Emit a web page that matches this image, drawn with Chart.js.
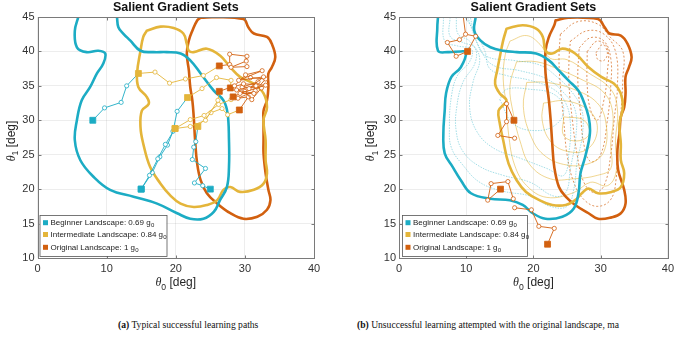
<!DOCTYPE html>
<html>
<head>
<meta charset="utf-8">
<script src="https://cdn.jsdelivr.net/npm/chart.js@4/dist/chart.umd.min.js"></script>
<style>
  html, body { margin: 0; padding: 0; background: #fff; }
  #wrap { position: relative; width: 678px; height: 346px; overflow: hidden; }
  .pane { position: absolute; top: 0; width: 339px; height: 300px; }
  .cap { position: absolute; top: 319px; font: 9.6px 'Liberation Serif', 'Times New Roman', serif; color: #111; white-space: nowrap; }
</style>
</head>
<body>
<div id="wrap">
  <div class="pane" style="left:0"><canvas id="chA" width="339" height="300"></canvas></div>
  <div class="pane" style="left:339px"><canvas id="chB" width="339" height="300"></canvas></div>
  <div class="cap" style="left:118px"><b>(a)</b> Typical successful learning paths</div>
  <div class="cap" style="left:357px"><b>(b)</b> Unsuccessful learning attempted with the original landscape, ma</div>
</div>
<script>
// axes
const xTickValues = [0, 10, 20, 30, 40];
const yTickValues = [10, 15, 20, 25, 30, 35, 40, 45];
const landscapeNames = ['Beginner Landscape', 'Intermediate Landscape', 'Original Landscape'];
const landscapeScales = ['0.69', '0.84', '1'];

// (a) salient set borders [theta0, theta1]
const leftBeginnerEdge = [[5.9,45],[5.4,43],[5.7,40.6],[7.1,39.9],[8.8,40.1],[9.8,39.7],[9.5,38.2],[8.6,36.8],[7.6,34.8],[6.4,32.9],[5.7,30],[5.4,27.1],[6.2,24.2],[8.1,21.8],[10.5,19.9],[13.9,18.9],[17.3,17.9],[20.2,16.5],[22.1,15.7],[24,15.7],[25.5,16.7],[26.4,18.4],[27.4,20.3],[27.7,23.2],[27.7,27.1],[27.5,31],[26.9,32.9],[25.5,34.3],[23.6,36.8],[22.1,38.7],[20.7,39.7],[18.7,39.9],[16.8,39.9],[14.9,40.1],[13.4,41.6],[12.4,42.6],[11.7,43.5],[11.5,45]];
const leftIntermediateEdge = [[15.8,43],[17.8,43.6],[19.7,43.4],[21.1,42.6],[21.6,41.1],[21.9,40.1],[22.6,39.9],[24.5,40.4],[26.4,39.4],[27.9,37.7],[29.3,36.3],[31.3,35.3],[32.7,33.9],[33.2,31.9],[32.7,30],[33,27.1],[33,24.2],[33.2,22.3],[32.7,20.8],[31.3,19.9],[29.3,19.6],[27.9,20.3],[26.9,19.9],[26,18.4],[24.5,17.7],[22.6,17.4],[20.7,17.9],[19.2,19.1],[17.8,20.8],[16.3,23.2],[15.3,26.6],[14.9,29],[15.1,31.4],[16.1,32.4],[15.8,33.4],[14.6,34.8],[14.4,36.8],[14.9,40.1],[15.3,42.1],[15.8,43]];
const leftOriginalEdge = [[23.6,44.9],[26,45],[29.8,44.7],[30.5,43.5],[31.3,42.6],[33.2,42.1],[33.9,41.1],[34.4,39.2],[33.9,37.7],[33.4,36.8],[33.4,34.8],[33.2,32.9],[32.7,31.4],[32.7,30],[32.7,27.1],[32.7,25.2],[33,22.3],[33.4,19.9],[33.7,18.4],[33.2,17],[31.8,16],[29.8,15.7],[27.9,16.5],[26,17.9],[24.5,19.4],[23.6,21.3],[23.1,23.7],[22.8,27.1],[22.6,30.5],[22.4,32.9],[22.1,34.8],[21.9,37.2],[21.6,39.7],[21.9,41.6],[22.4,43],[23.1,44.5],[23.6,44.9]];

// (a) learning paths, first point is the start square
const leftBeginnerPaths = [
  [[8,30],[9.7,31.8],[12.1,32.6],[12.9,35],[14.6,36.8]],
  [[15,20],[16.2,22],[17.4,24.4],[18.5,26.5],[19.9,28.8]],
  [[15,20],[16.6,22.4],[17.7,24.7],[18.8,26.4],[19.6,28.4],[20.2,31.3],[21.7,33.3]],
  [[25,20],[23.9,20.5],[22.7,20.9],[24.3,23],[22.4,24.3],[22.6,26.1],[22.9,26.9],[23.2,29.1]]
];
const leftIntermediatePaths = [
  [[14.6,36.8],[17,37],[19.1,35.4],[21.4,36],[24,36.5],[26.3,37.9]],
  [[21.7,33.3],[23.8,34.6],[25.9,36.2],[28,35.8],[27.9,34.7]],
  [[19.9,28.8],[22.1,29.1],[24.3,30],[26.1,32.9],[26.3,34.2]],
  [[19.9,28.8],[22.1,30.1],[24.1,30.7],[26.2,32.3],[28,33],[28.3,33.4]],
  [[23.2,29.1],[25.1,31.1],[26.7,31.7],[27.5,30.8],[29.2,31.5]]
];
const leftOriginalPaths = [
  [[26.3,37.9],[27.8,38.1],[27.8,39.6],[30.3,39.3],[30.2,38.6],[28,37.7],[30.3,37.8]],
  [[26.3,34.2],[28.5,35],[30.1,36.6],[32.5,37.2],[29.1,35.8],[32.7,36.3],[30.6,34.6]],
  [[27.9,34.7],[29.8,35.3],[33,35.1],[29.3,33.9],[31.3,33.9],[28.8,34.4],[31.6,35]],
  [[28.3,33.4],[30,34.2],[31,33],[32.4,34.7],[29.6,34.8],[31.9,35.6]],
  [[29.2,31.5],[30.5,33.4],[29,33.2],[31.5,34.3],[33,36],[30.8,36.2]]
];

// (b) salient set borders
const rightBeginnerEdge = [[5.8,45],[5.7,43.5],[5.8,40.1],[7.3,39.9],[9.2,40],[10,39.9],[9.2,37.7],[7.8,36.3],[7,33.9],[6.8,31.4],[6.6,28.1],[6.8,25.2],[8,23.2],[9.2,21.3],[10.7,19.4],[13.6,18.6],[16.5,18.4],[18.4,17.7],[19.9,16.5],[21.8,15.7],[24.3,16],[26,17.2],[26.7,19.4],[27,22.3],[27.7,24.7],[28.4,28.1],[28.2,30.5],[27.4,32.9],[26.7,34.3],[25.2,35.8],[23.8,37.2],[22.3,38.7],[20.4,39.7],[17.5,39.9],[15.5,40.1],[13.6,40.6],[12.1,41.6],[11.2,43],[11.4,45]];
const rightIntermediateEdge = [[16,43.3],[18.4,43.8],[20.4,43.3],[21.4,42.1],[21.8,40.1],[22.8,39.7],[24.3,40.4],[26.2,39.7],[28.2,37.7],[30.1,36.3],[32,35.3],[33,33.9],[33.3,31.9],[32.8,29.5],[33,26.6],[33,24.2],[33.5,22.3],[33,20.3],[31.6,19.6],[29.6,19.4],[28.2,20.1],[27.2,19.4],[26.2,18.4],[24.8,17.7],[22.8,17.7],[20.9,18.4],[18.9,19.6],[17.5,21.3],[16.3,23.7],[15.5,27.1],[15,29.5],[14.8,31.4],[15.5,32.2],[16,32.9],[15,33.9],[14.3,35.3],[14.6,37.2],[15,39.2],[15.5,41.6],[16,43.3]];
const rightOriginalEdge = [[23.3,44.5],[25.2,44.9],[29.6,44.7],[30.6,43.5],[31.3,42.6],[33,42.3],[34,41.1],[34.6,39.2],[34.2,37.7],[33.7,36.3],[33.7,33.9],[33.5,31.9],[33,30.5],[32.8,28.1],[32.5,25.7],[32.6,22.8],[33.5,19.9],[33.7,17.9],[33,16.5],[31.6,15.9],[29.6,15.7],[28.2,16.5],[26.2,17.7],[24.8,18.9],[23.8,20.3],[23.1,23.2],[22.8,26.6],[22.6,29.5],[22.3,32.9],[21.8,36.8],[21.8,40.1],[22.3,42.1],[23.1,43.8],[23.3,44.5]];

// (b) inner gradient levels
const rightBeginnerLevels = [
  [[6.6,45],[6.8,41.5],[8.7,40.8],[10.8,40.3],[10.5,38.5],[8.7,36.5],[7.8,33.5],[7.5,29],[7.8,26],[9.5,23.5],[12,21],[15.5,19.7],[19.5,19],[22.5,17.5],[25,17.5],[26,20],[26.5,24],[27.3,28],[27.2,31.5],[25.8,34],[23.5,36.3],[21,38],[17,38.7],[13,39.3],[11.5,41.5],[10.6,45]],
  [[7.6,45],[7.6,42.2],[9.5,41.3],[11.3,40.5],[11.3,38.3],[9.5,35.5],[8.6,32],[8.5,28.5],[9.5,25.5],[12,23.3],[15.5,22],[19.5,21],[23,19],[24.8,19.5],[25.5,23],[26.3,27.5],[26.2,31.5],[24.5,34],[22,36],[18,37.2],[14,38],[12,40.5],[10.2,45]],
  [[8.5,45],[8.8,42.5],[10.5,41.5],[12,39],[11,35.5],[10.5,32],[11.5,28.5],[14,26],[18,24.5],[22,23],[24.5,22],[25.3,25.5],[25.5,29.5],[24.8,32.5],[23,34.5],[19.5,35.8],[16,36.5],[13.5,37.5],[12.8,40],[11.5,42.5],[9.8,45]],
  [[15,33],[17,29.5],[20.5,28.5],[23.5,29.5],[24.5,31.8],[23,33.8],[19.5,34.5],[16,34.5],[15,33]]
];
const rightIntermediateLevels = [
  [[16.5,41.5],[19,42.3],[21,41],[22.5,39],[25,38.8],[28,37],[31.5,34.5],[32.5,31.5],[32.2,27],[32.3,22.5],[31,20.5],[28.5,21],[26,19.5],[22,18.8],[19,20.5],[17.2,23.5],[16.3,28],[16,32],[15.5,36],[15.8,39.5],[16.5,41.5]],
  [[17.5,38.5],[20.5,38.5],[23.5,37.5],[27,36],[30.5,34],[31.8,31],[31.5,26.5],[31.5,23],[29.5,22],[26,21.5],[22.5,21.5],[19.5,23.5],[18,27],[17,31],[16.5,35],[17.5,38.5]],
  [[19,35.5],[22,35.5],[26,34.5],[29.5,32.5],[30.8,29.5],[30.5,25.5],[28.5,23.8],[25,23.5],[21.5,25],[19.5,28],[18.5,32],[19,35.5]],
  [[21.5,32.5],[25,32.8],[28.5,31.2],[29.5,28.5],[28,25.8],[25,25.5],[22.5,27],[21.3,30],[21.5,32.5]],
  [[24.5,30.5],[27.5,30],[28.3,28],[26.5,27],[24.5,27.8],[24.5,30.5]]
];
const rightOriginalLevels = [
  [[24,42.5],[26.5,44.3],[29.5,44],[31.5,42],[33.3,40],[33.3,36],[33,31],[32.5,26],[32.3,21.5],[31.5,18.5],[29.5,17.5],[27.5,18.5],[26,21],[25,25],[24.5,30],[24,35],[23.8,39],[24,42.5]],
  [[25.5,41.5],[28,43],[30.5,42.5],[32.2,40],[32.5,35],[32,30],[31.5,25],[30.5,20.5],[29,19.5],[27.5,21],[26.5,25],[25.8,30],[25.3,35],[25.3,39],[25.5,41.5]],
  [[26.8,40.5],[28.5,42],[30.5,41.5],[31.5,39],[31.5,35],[31,30],[30,25],[28.5,24],[27.5,26.5],[27,31],[26.6,36],[26.8,40.5]],
  [[28,40],[29.5,41.5],[31,40.5],[31,37],[30.5,33],[29.5,30],[28.5,31.5],[28,35],[28,40]],
  [[29.3,39.8],[30.3,41],[31,39.8],[30.5,38.7],[29.6,38.8],[29.3,39.8]]
];

// (b) failed paths
const rightOriginalPaths = [
  [[10.2,40],[8.5,39.3],[7.2,41.3],[9,41.7],[9.9,42.5],[11.4,42.2],[10.2,40]],
  [[9.9,42.5],[9.5,45.5]],
  [[17.1,30],[16,32.4],[16,29.8],[14.7,27.8],[17.2,27.4]],
  [[15.1,20],[13.2,18.4],[13.7,20.8],[16.2,21.1],[17,18.6]],
  [[22.1,12],[23.1,14.3],[20.8,14.6],[19.7,17],[17.2,17.3]]
];

const COL = ['#1cacc4', '#e4b53a', '#d2600f'];
const COL_THIN = ['rgba(28,172,196,0.5)', 'rgba(228,181,58,0.7)', 'rgba(210,96,15,0.85)'];

const pts = arr => arr.map(([x, y]) => ({ x, y }));

function edge(data, color) {
  return { data: pts(data), showLine: true, borderColor: color, borderWidth: 2.6, pointRadius: 0,
    tension: 0.4, borderJoinStyle: 'round', borderCapStyle: 'round', order: 2 };
}
function level(data, color, dash) {
  return { data: pts(data), showLine: true, borderColor: color, borderWidth: 0.8, borderDash: dash,
    pointRadius: 0, tension: 0.4, order: 3 };
}
function path(data, color, hideEnd, noStart) {
  const n = data.length;
  return {
    data: pts(data), showLine: true, borderColor: color, borderWidth: 0.9, tension: 0, order: 0,
    pointStyle: data.map((_, i) => i === 0 && !noStart ? 'rect' : 'circle'),
    pointRadius: data.map((_, i) => i === 0 ? (noStart ? 0 : 4.2) : (hideEnd && i === n - 1 ? 0 : 2.1)),
    pointBackgroundColor: data.map((_, i) => i === 0 ? color : '#fff'),
    pointBorderColor: color, pointBorderWidth: 0.8
  };
}

function drawSub(ctx, x, y, sub, rest, size) {
  // theta + subscript + rest, centred on x
  const fTh = `italic ${size}px "Liberation Serif", serif`;
  const fSub = `${size * 0.72}px "Liberation Sans", Arial, sans-serif`;
  const fTxt = `${size}px "Liberation Sans", Arial, sans-serif`;
  ctx.font = fTh; const w1 = ctx.measureText('θ').width;
  ctx.font = fSub; const w2 = ctx.measureText(sub).width;
  ctx.font = fTxt; const w3 = ctx.measureText(rest).width;
  let cx = x - (w1 + w2 + w3) / 2;
  ctx.textAlign = 'left'; ctx.textBaseline = 'middle';
  ctx.font = fTh; ctx.fillText('θ', cx, y); cx += w1;
  ctx.font = fSub; ctx.fillText(sub, cx, y + size * 0.35); cx += w2;
  ctx.font = fTxt; ctx.fillText(rest, cx, y);
}

const matlabFrame = {
  id: 'matlabFrame',
  afterDatasetsDraw(chart, args, o) {
    const { ctx, chartArea: a, scales: { x, y } } = chart;
    ctx.save();
    const L = Math.round(a.left) + 0.5, R = Math.round(a.right) + 0.5;
    const T = Math.round(a.top) + 0.5, B = Math.round(a.bottom) + 0.5;
    ctx.strokeStyle = '#7a7a7a'; ctx.lineWidth = 1;
    ctx.strokeRect(L, T, R - L, B - T);
    ctx.beginPath();
    xTickValues.forEach(v => { const px = Math.round(x.getPixelForValue(v)) + 0.5;
      ctx.moveTo(px, B); ctx.lineTo(px, B - 3); ctx.moveTo(px, T); ctx.lineTo(px, T + 3); });
    yTickValues.forEach(v => { const py = Math.round(y.getPixelForValue(v)) + 0.5;
      ctx.moveTo(L, py); ctx.lineTo(L + 3, py); ctx.moveTo(R, py); ctx.lineTo(R - 3, py); });
    ctx.stroke();

    // legend box
    const bx = a.left + o.legendDx, bw = o.legendW, bh = 41, by = a.bottom - 2 - bh;
    ctx.fillStyle = '#fff'; ctx.fillRect(bx, by, bw, bh);
    ctx.strokeStyle = '#555'; ctx.lineWidth = 0.8; ctx.strokeRect(bx + 0.5, by + 0.5, bw, bh);
    const rows = [7.7, 19.5, 32.3];
    landscapeNames.forEach((name, i) => {
      const ry = by + rows[i];
      ctx.fillStyle = COL[i]; ctx.fillRect(bx + 3.5, ry - 2.5, 5, 5);
      ctx.fillStyle = '#222'; ctx.textAlign = 'left'; ctx.textBaseline = 'middle';
      ctx.font = '8px "Liberation Sans", Arial, sans-serif';
      const txt = `${name}: ${landscapeScales[i]} g`;
      ctx.fillText(txt, bx + 11, ry);
      const w = ctx.measureText(txt).width;
      ctx.font = '6px "Liberation Sans", Arial, sans-serif';
      ctx.fillText('0', bx + 11 + w + 0.3, ry + 3);
    });
    ctx.restore();
  },
  afterDraw(chart, args, o) {
    const { ctx, chartArea: a } = chart;
    const cx = (a.left + a.right) / 2;
    ctx.save();
    ctx.fillStyle = '#111';
    ctx.font = 'bold 12.5px "Liberation Sans", Arial, sans-serif';
    ctx.textAlign = 'center'; ctx.textBaseline = 'middle';
    ctx.fillText('Salient Gradient Sets', cx, 7.5);
    ctx.fillStyle = '#262626';
    drawSub(ctx, cx, 283, '0', ' [deg]', 12);
    ctx.translate(a.left - o.yLabelDx, 141);
    ctx.rotate(-Math.PI / 2);
    drawSub(ctx, 0, 0, '1', ' [deg]', 12);
    ctx.restore();
  }
};

function makeChart(id, datasets, yWidth, padRight, legendDx, legendW, yLabelDx) {
  return new Chart(document.getElementById(id), {
    type: 'scatter',
    data: { datasets },
    options: {
      responsive: false, animation: false, events: [],
      layout: { padding: { top: 17, right: padRight, left: 0, bottom: 0 } },
      plugins: { legend: { display: false }, tooltip: { enabled: false },
        matlabFrame: { legendDx, legendW, yLabelDx } },
      scales: {
        x: {
          min: 0, max: 40,
          afterFit: s => { s.height = 42; },
          afterBuildTicks: s => { s.ticks = xTickValues.map(v => ({ value: v })); },
          grid: { color: 'rgba(0,0,0,0.07)', drawTicks: false },
          border: { display: false },
          ticks: { padding: 4, color: '#333', font: { size: 11, family: '"Liberation Sans", Arial, sans-serif' }, maxRotation: 0 }
        },
        y: {
          min: 10, max: 45,
          afterFit: s => { s.width = yWidth; },
          afterBuildTicks: s => { s.ticks = yTickValues.map(v => ({ value: v })); },
          grid: { color: 'rgba(0,0,0,0.07)', drawTicks: false },
          border: { display: false },
          ticks: { padding: 3, color: '#333', font: { size: 11, family: '"Liberation Sans", Arial, sans-serif' } }
        }
      }
    },
    plugins: [matlabFrame]
  });
}

const leftSets = [
  ...leftOriginalPaths.map(p => path(p, COL[2], false)),
  ...leftIntermediatePaths.map(p => path(p, COL[1], true)),
  ...leftBeginnerPaths.map(p => path(p, COL[0], true)),
  edge(leftBeginnerEdge, COL[0]),
  edge(leftIntermediateEdge, COL[1]),
  edge(leftOriginalEdge, COL[2])
];

const rightSets = [
  ...rightOriginalPaths.map((p, i) => path(p, COL[2], i === 0, i === 1)),
  edge(rightBeginnerEdge, COL[0]),
  edge(rightIntermediateEdge, COL[1]),
  edge(rightOriginalEdge, COL[2]),
  ...rightBeginnerLevels.map(p => level(p, COL_THIN[0], [1.5, 1.2])),
  ...rightIntermediateLevels.map(p => level(p, COL_THIN[1], [])),
  ...rightOriginalLevels.map(p => level(p, COL_THIN[2], [2, 2]))
];

makeChart('chA', leftSets, 37.5, 25, 2, 127, 26);
makeChart('chB', rightSets, 60, 4, 3, 125, 28);
</script>
</body>
</html>
